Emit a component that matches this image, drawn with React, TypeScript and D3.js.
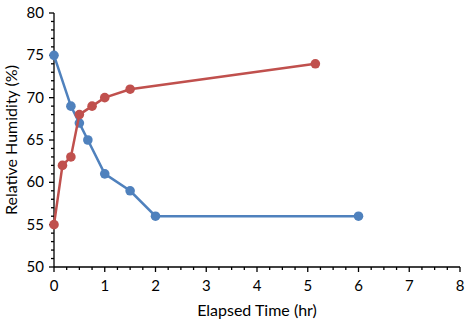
import React from 'react';
import * as d3 from 'd3';

// time (hr) / relative humidity (%)
const blueTime = [0, 0.333, 0.5, 0.667, 1, 1.5, 2, 6];
const blueRH = [75, 69, 67, 65, 61, 59, 56, 56];
const redTime = [0, 0.167, 0.333, 0.5, 0.75, 1, 1.5, 5.15];
const redRH = [55, 62, 63, 68, 69, 70, 71, 74];
const xTicks = [0, 1, 2, 3, 4, 5, 6, 7, 8];
const yTicks = [50, 55, 60, 65, 70, 75, 80];

const width = 467;
const height = 323;
const marginLeft = 54;
const marginRight = 7;
const marginTop = 13;
const marginBottom = 56;
const font = "Lato, 'Open Sans', sans-serif";

const App = () => {
  const x = d3.scaleLinear().domain([0, 8]).range([marginLeft, width - marginRight]);
  const y = d3.scaleLinear().domain([50, 80]).range([height - marginBottom, marginTop]);
  const line = d3.line<[number, number]>().x(d => x(d[0])).y(d => y(d[1]));

  const series = [
    { color: '#4F81BD', pts: blueTime.map((t, i) => [t, blueRH[i]] as [number, number]) },
    { color: '#C0504D', pts: redTime.map((t, i) => [t, redRH[i]] as [number, number]) },
  ];

  const xMinor = d3.range(0, 8.001, 0.25);
  const yMinor = d3.range(50, 80.001, 1);
  const y0 = y(50);

  return (
    <svg width={width} height={height} style={{ position: 'absolute', left: 0, top: 0, fontFamily: font }}>
      <rect width={width} height={height} fill="#fff" />
      {/* axes */}
      <g stroke="#000" strokeWidth={1.3}>
        <line x1={x(0)} x2={x(8)} y1={y0} y2={y0} />
        <line x1={x(0)} x2={x(0)} y1={y(50)} y2={y(80)} />
        {xMinor.map(t => (
          <line key={'xm' + t} x1={x(t)} x2={x(t)} y1={y0} y2={y0 + (Number.isInteger(t) ? 5 : 3)} />
        ))}
        {yMinor.map(v => (
          <line key={'ym' + v} x1={x(0) - (v % 5 === 0 ? 5 : 3)} x2={x(0)} y1={y(v)} y2={y(v)} />
        ))}
      </g>
      <g fontSize={15} fill="#000">
        {xTicks.map(t => (
          <text key={'xt' + t} x={x(t)} y={y0 + 24} textAnchor="middle">{t}</text>
        ))}
        {yTicks.map(v => (
          <text key={'yt' + v} x={x(0) - 10} y={y(v) + 5} textAnchor="end">{v}</text>
        ))}
      </g>
      <text x={257} y={316} fontSize={16} textAnchor="middle">Elapsed Time (hr)</text>
      <text transform={`translate(17,${(y(50) + y(80)) / 2}) rotate(-90)`} fontSize={16} textAnchor="middle">
        Relative Humidity (%)
      </text>
      {series.map((s, i) => (
        <g key={i}>
          <path d={line(s.pts) ?? ''} fill="none" stroke={s.color} strokeWidth={2.5} />
          {s.pts.map((p, j) => (
            <circle key={j} cx={x(p[0])} cy={y(p[1])} r={4.8} fill={s.color} />
          ))}
        </g>
      ))}
    </svg>
  );
};

export default App;
